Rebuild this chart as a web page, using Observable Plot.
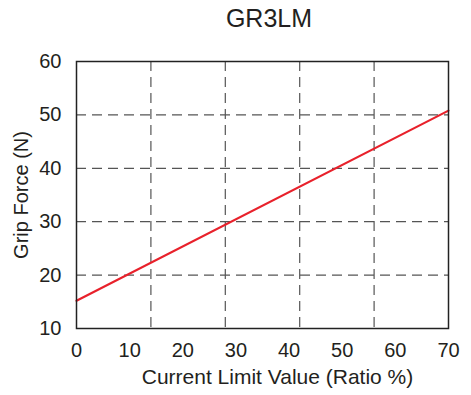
<!DOCTYPE html>
<html>
<head>
<meta charset="utf-8">
<script src="https://cdn.jsdelivr.net/npm/d3@7"></script>
<script src="https://cdn.jsdelivr.net/npm/@observablehq/plot@0.6"></script>
<style>
  html, body { margin: 0; padding: 0; background: #fff; }
  #title { width: 471px; height: 40px; box-sizing: border-box; padding-top: 5px; padding-left: 67px;
    text-align: center; font-family: "Liberation Sans", Arial, sans-serif; font-size: 25px; line-height: 26px; color: #231f20; }
  #chart svg { display: block; }
</style>
</head>
<body>
<div id="title"></div>
<div id="chart"></div>
<script>
const titleText = "GR3LM";
const xLabel = "Current Limit Value (Ratio %)";
const yLabel = "Grip Force (N)";
const xTicks = [0, 10, 20, 30, 40, 50, 60, 70];
const yTicks = [10, 20, 30, 40, 50, 60];
const xGrid = [14, 28, 42, 56];
const yGrid = [20, 30, 40, 50];
const ratio = [0, 70];
const force = [15.2, 50.8];

document.getElementById("title").textContent = titleText;
const lineData = ratio.map((r, i) => ({ratio: r, force: force[i]}));

const chart = Plot.plot({
  width: 471,
  height: 355,
  marginTop: 21,
  marginBottom: 67,
  marginLeft: 76,
  marginRight: 23,
  style: { fontFamily: "'Liberation Sans', Arial, sans-serif", fontSize: "20px", color: "#231f20", background: "#fff" },
  x: { domain: [0, 70] },
  y: { domain: [10, 60] },
  marks: [
    Plot.ruleX(xGrid, { stroke: "#555", strokeWidth: 1.2, strokeDasharray: "10,6", strokeOpacity: 1 }),
    Plot.ruleY(yGrid, { stroke: "#555", strokeWidth: 1.2, strokeDasharray: "10,6", strokeOpacity: 1 }),
    Plot.line(lineData, { x: "ratio", y: "force", stroke: "#e8212b", strokeWidth: 2.2 }),
    Plot.frame({ stroke: "#222", strokeWidth: 1.5 }),
    Plot.axisX({ ticks: xTicks, tickSize: 0, tickPadding: 14, tickFormat: d => String(d),
      label: null, fill: "#231f20", fontSize: 20 }),
    Plot.axisY({ ticks: yTicks, tickSize: 0, tickPadding: 15, tickFormat: d => String(d),
      label: yLabel, labelAnchor: "center", labelArrow: "none", labelOffset: 63,
      fill: "#231f20", fontSize: 20 }),
    Plot.text([xLabel], { text: d => d, frameAnchor: "bottom", dx: 15, dy: 55.3,
      fontSize: 21, fill: "#231f20" })
  ]
});
document.getElementById("chart").appendChild(chart);
</script>
</body>
</html>
